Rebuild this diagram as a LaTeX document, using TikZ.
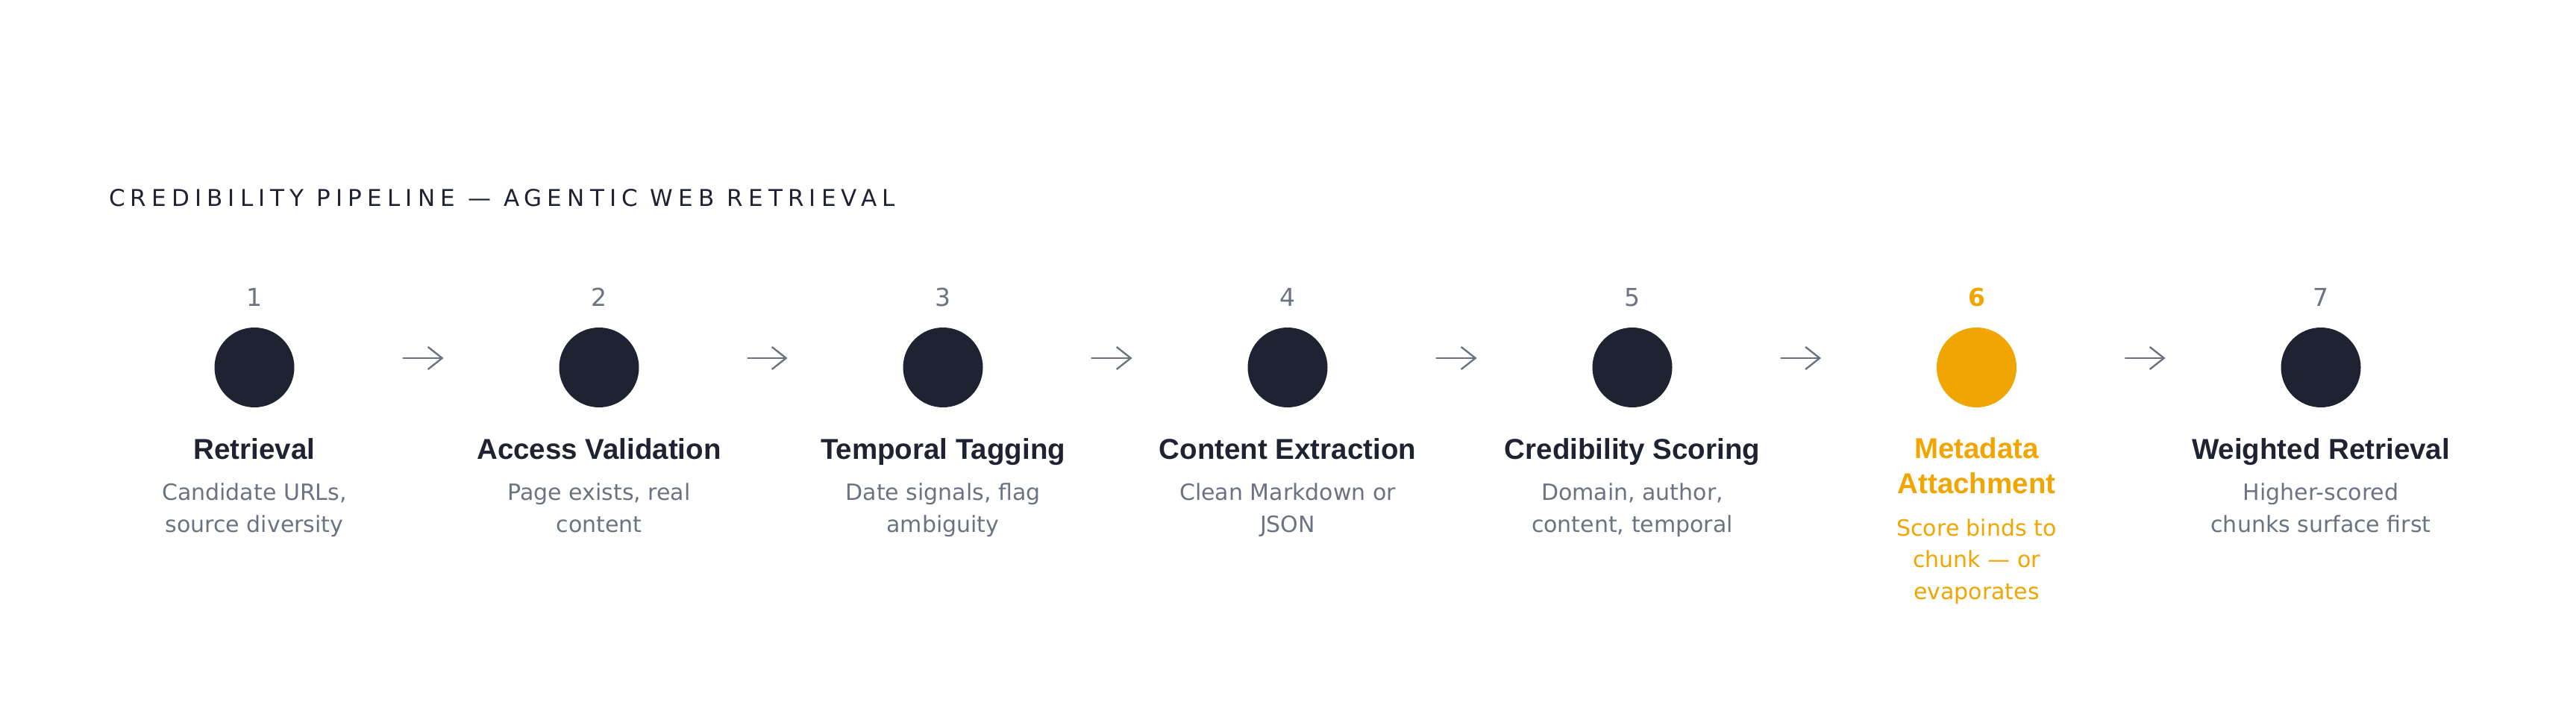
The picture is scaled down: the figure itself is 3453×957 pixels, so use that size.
\documentclass[tikz,border=0pt]{standalone}
\usepackage{fontspec}
\setmainfont{DejaVu Sans}
\newfontfamily\boldsans{Liberation Sans}
\newfontfamily\trackedsans[LetterSpace=23]{DejaVu Sans}
\usetikzlibrary{arrows.meta}
\definecolor{inkDark}{HTML}{1E2231}
\definecolor{mutedGray}{HTML}{6B7280}
\definecolor{accentOrange}{HTML}{F0A500}

\begin{document}
\begin{tikzpicture}
[x=0.5pt, y=-0.5pt,
  dotDecorate/.style={shape=circle,minimum size=53.5pt,inner sep=0pt,fill=inkDark},%
  numDecorate/.style={anchor=base,text=mutedGray,font={\fontsize{16.5}{20}\selectfont}},%
  titleDecorate/.style={anchor=base,align=center,text=inkDark,font={\boldsans\bfseries\fontsize{19.25}{23.5}\selectfont}},%
  descDecorate/.style={anchor=base,align=center,text=mutedGray,font={\fontsize{15}{21.25}\selectfont}},%
  lineDecorate/.style={-{Straight Barb[length=9.5pt,width=15pt]},line width=1.2pt,draw=mutedGray,
    line cap=round,line join=round,shorten <=72.75pt,shorten >=77.25pt}]
\useasboundingbox[fill=white] (0,0) rectangle (3453,957);
%% heading
\node (head) at (139,276.5) [anchor=base west,text=inkDark,font={\trackedsans\fontsize{15.5}{18}\selectfont}]
  {CREDIBILITY PIPELINE — AGENTIC WEB RETRIEVAL};
%% steps (base of a text = its last line)
\foreach \nodename/\x/\title/\desc in {
  1/341/Retrieval/{Candidate URLs,\\source diversity},
  2/803/Access Validation/{Page exists, real\\content},
  3/1264/Temporal Tagging/{Date signals, flag\\ambiguity},
  4/1726/Content Extraction/{Clean Markdown or\\JSON},
  5/2188/Credibility Scoring/{Domain, author,\\content, temporal},
  7/3111/Weighted Retrieval/{Higher-scored\\chunks surface first}}
{
  \node (n\nodename) at (\x,410) [numDecorate] {\nodename};
  \node (\nodename) at (\x,492.5) [dotDecorate] {};
  \node (t\nodename) at (\x,615) [titleDecorate] {\title};
  \node (s\nodename) at (\x,713) [descDecorate] {\desc};
}
%% highlighted step
\node (n6) at (2649.5,410) [numDecorate,text=accentOrange,font={\bfseries\fontsize{16.5}{20}\selectfont}] {6};
\node (6) at (2649.5,492.5) [dotDecorate,fill=accentOrange] {};
\node (t6) at (2649.5,661) [titleDecorate,text=accentOrange] {Metadata\\Attachment};
\node (s6) at (2649.5,803) [descDecorate,text=accentOrange] {Score binds to\\chunk — or\\evaporates};
%% arrows
\path
\foreach \startnode/\endnode in {1/2, 2/3, 3/4, 4/5, 5/6, 6/7}
{
  ([yshift=6.25pt]\startnode.east) edge[lineDecorate] ([yshift=6.25pt]\endnode.west)
};
\end{tikzpicture}
\end{document}
